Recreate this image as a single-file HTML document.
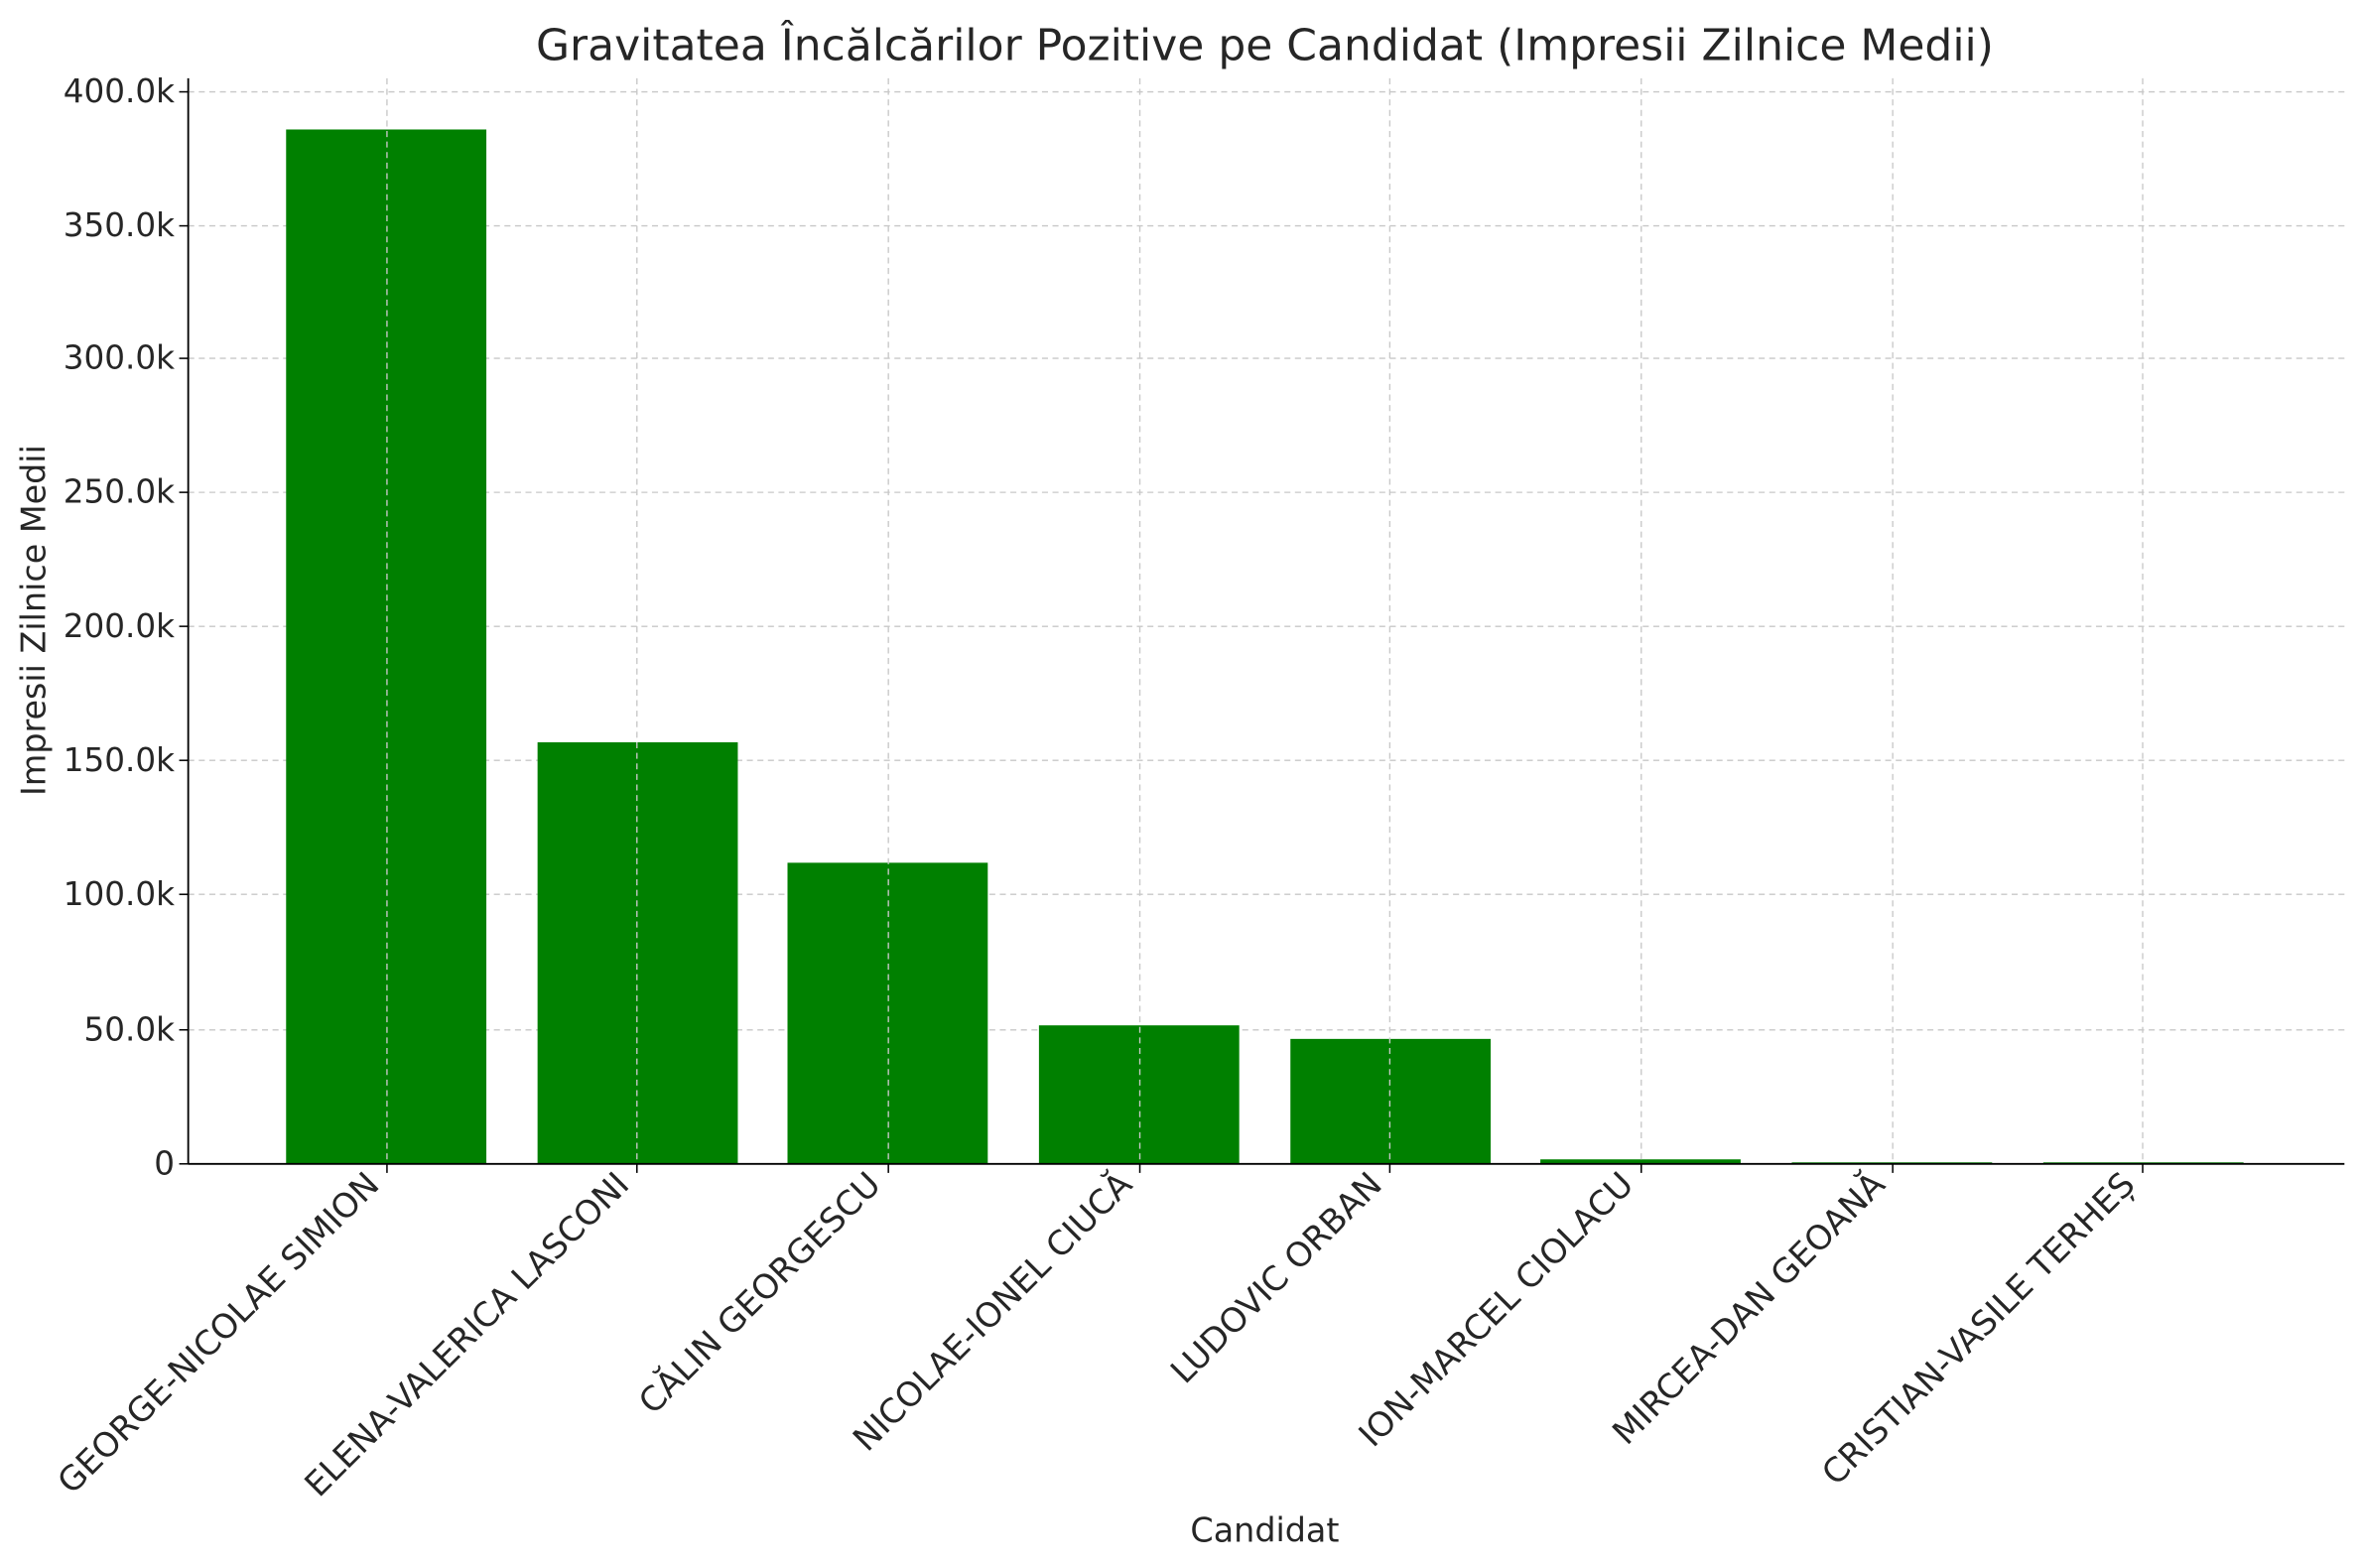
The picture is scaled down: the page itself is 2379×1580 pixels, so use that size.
<!DOCTYPE html>
<html><head><meta charset="utf-8"><style>
html,body{margin:0;padding:0;background:#fff;}
svg{display:block;}
text{font-family:"DejaVu Sans","Liberation Sans",sans-serif;fill:#262626;}
</style></head><body>
<svg width="2379" height="1580" viewBox="0 0 1568 1041.4" preserveAspectRatio="none" xmlns="http://www.w3.org/2000/svg">
<rect width="1568" height="1042" fill="#fff"/>
<g stroke="#c8c8c8" stroke-width="0.9" stroke-dasharray="4,3">
<line x1="125" x2="1557" y1="61" y2="61"/><line x1="125" x2="1557" y1="150" y2="150"/>
<line x1="125" x2="1557" y1="238" y2="238"/><line x1="125" x2="1557" y1="327" y2="327"/>
<line x1="125" x2="1557" y1="416" y2="416"/><line x1="125" x2="1557" y1="505" y2="505"/>
<line x1="125" x2="1557" y1="594" y2="594"/><line x1="125" x2="1557" y1="684" y2="684"/>
</g>
<g fill="#008000">
<rect x="190" y="86" width="133" height="687"/>
<rect x="357" y="493" width="133" height="280"/>
<rect x="523" y="573" width="133" height="200"/>
<rect x="690" y="681" width="133" height="92"/>
<rect x="857" y="690" width="133" height="83"/>
<rect x="1023" y="770" width="133" height="3"/>
<rect x="1190" y="772" width="133" height="1"/>
<rect x="1357" y="772" width="133" height="1"/>
</g>
<g stroke="#c8c8c8" stroke-width="0.9" stroke-dasharray="4,3">
<line y1="52" y2="773" x1="257" x2="257"/><line y1="52" y2="773" x1="423" x2="423"/>
<line y1="52" y2="773" x1="590" x2="590"/><line y1="52" y2="773" x1="757" x2="757"/>
<line y1="52" y2="773" x1="923" x2="923"/><line y1="52" y2="773" x1="1090" x2="1090"/>
<line y1="52" y2="773" x1="1257" x2="1257"/><line y1="52" y2="773" x1="1423" x2="1423"/>
</g>
<line x1="125" y1="52" x2="125" y2="773.5" stroke="#000" stroke-width="1.2"/>
<line x1="125" y1="773" x2="1557" y2="773" stroke="#000" stroke-width="1.2"/>
<g stroke="#000" stroke-width="1">
<line x1="119" x2="125" y1="61" y2="61"/><line x1="119" x2="125" y1="150" y2="150"/><line x1="119" x2="125" y1="238" y2="238"/><line x1="119" x2="125" y1="327" y2="327"/><line x1="119" x2="125" y1="416" y2="416"/><line x1="119" x2="125" y1="505" y2="505"/><line x1="119" x2="125" y1="594" y2="594"/><line x1="119" x2="125" y1="684" y2="684"/><line x1="119" x2="125" y1="773" y2="773"/>
<line x1="257" x2="257" y1="773" y2="779"/><line x1="423" x2="423" y1="773" y2="779"/><line x1="590" x2="590" y1="773" y2="779"/><line x1="757" x2="757" y1="773" y2="779"/><line x1="923" x2="923" y1="773" y2="779"/><line x1="1090" x2="1090" y1="773" y2="779"/><line x1="1257" x2="1257" y1="773" y2="779"/><line x1="1423" x2="1423" y1="773" y2="779"/>
</g>
<g font-size="21.5" text-anchor="end">
<text x="116" y="68">400.0k</text><text x="116" y="157">350.0k</text><text x="116" y="245">300.0k</text><text x="116" y="334">250.0k</text><text x="116" y="423">200.0k</text><text x="116" y="512">150.0k</text><text x="116" y="601">100.0k</text><text x="116" y="691">50.0k</text><text x="116" y="780">0</text>
</g>
<g font-size="22.3" text-anchor="end">
<text transform="translate(253,788) rotate(-45)">GEORGE-NICOLAE SIMION</text>
<text transform="translate(419,788) rotate(-45)">ELENA-VALERICA LASCONI</text>
<text transform="translate(586,788) rotate(-45)">CĂLIN GEORGESCU</text>
<text transform="translate(753,788) rotate(-45)">NICOLAE-IONEL CIUCĂ</text>
<text transform="translate(919,788) rotate(-45)">LUDOVIC ORBAN</text>
<text transform="translate(1086,788) rotate(-45)">ION-MARCEL CIOLACU</text>
<text transform="translate(1253,788) rotate(-45)">MIRCEA-DAN GEOANĂ</text>
<text transform="translate(1419,788) rotate(-45)">CRISTIAN-VASILE TERHEȘ</text>
</g>
<text x="840" y="40" font-size="29" text-anchor="middle">Gravitatea Încălcărilor Pozitive pe Candidat (Impresii Zilnice Medii)</text>
<text x="840" y="1024" font-size="22" text-anchor="middle">Candidat</text>
<text transform="translate(30,412) rotate(-90)" font-size="22" text-anchor="middle">Impresii Zilnice Medii</text>
</svg>
</body></html>
